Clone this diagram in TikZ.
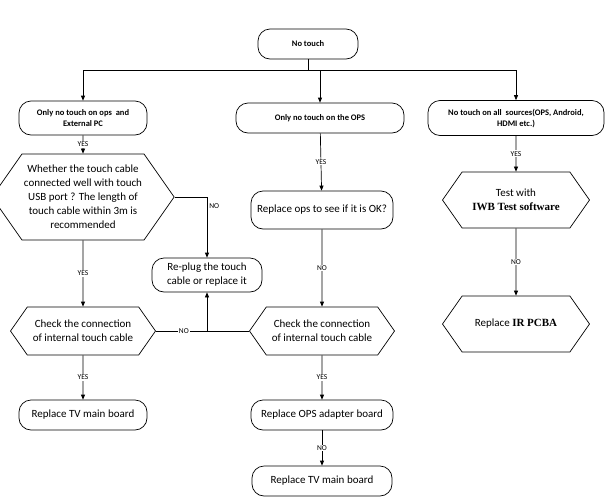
\documentclass[tikz,border=0pt]{standalone}
\usepackage{fontspec}
\setmainfont{Carlito}
\newfontfamily\serifb{Liberation Serif}
\usetikzlibrary{shapes.symbols,arrows.meta}
\tikzset{%
  termnode/.style = {shape=rectangle, rounded corners=12pt, draw,%
                     align=center, font=\fontsize{8.5}{11}\selectfont\bfseries},%
  procnode/.style = {shape=rectangle, rounded corners=12pt, draw,%
                     align=center, font=\fontsize{11}{14}\selectfont},%
  hexnode/.style  = {shape=signal, signal to=east and west, draw,%
                     signal pointer angle=110, align=center, inner xsep=2pt,%
                     font=\fontsize{11}{14}\selectfont},%
  lbl/.style      = {fill=white, inner sep=1pt, font=\fontsize{7.5}{9}\selectfont},%
  flow/.style     = {draw, -{Triangle[length=5pt,width=4pt]}}%
}
\begin{document}
\begin{tikzpicture}[x=1pt, y=-1pt, line width=0.7pt]
  \useasboundingbox (0,0) rectangle (611,501);
  % top
  \node[termnode, minimum width=100, minimum height=30] (top) at (308,44) {No touch};
  \node[termnode, minimum width=128, minimum height=34] (ops) at (83,118)
    {Only no touch on ops\ \ and\\External PC};
  \node[termnode, minimum width=168, minimum height=30] (only) at (320,118)
    {Only no touch on the OPS};
  \node[termnode, minimum width=176, minimum height=35] (all) at (516,118)
    {No touch on all\ \ sources(OPS, Android,\\HDMI etc.)};
  \coordinate (split) at (308,70);
  \draw (top) -- (split);
  \draw (83,70) -- (516,70);
  \draw[flow] (83,70) -- (ops);
  \draw[flow] (320,70) -- (only);
  \draw[flow] (516,70) -- (all);
  % left branch
  \node[hexnode, minimum width=165, minimum height=86] (cable) at (83,197)
    {Whether the touch cable\\connected well with touch\\USB port ? The length of\\touch cable within 3m is\\recommended};
  \node[procnode, minimum width=110, minimum height=34] (replug) at (207,275)
    {Re-plug the touch\\cable or replace it};
  \node[hexnode, minimum width=145, minimum height=48] (checkl) at (83,331)
    {Check the connection\\of internal touch cable};
  \node[termnode, font=\fontsize{11}{14}\selectfont, minimum width=128, minimum height=30] (tvl) at (83,415)
    {Replace TV main board};
  \draw[flow] (ops) -- node[lbl] {YES} (cable);
  \draw[flow] (cable.east) -- (207,197) -- node[lbl, pos=0.15, right=1pt, fill=none] {NO} (replug);
  \draw[flow] (cable) -- node[lbl] {YES} (checkl);
  \draw[flow] (checkl) -- node[lbl] {YES} (tvl);
  % middle branch
  \node[procnode, minimum width=142, minimum height=38] (swap) at (322,210)
    {Replace ops to see if it is OK?};
  \node[hexnode, minimum width=145, minimum height=48] (checkm) at (322,331)
    {Check the connection\\of internal touch cable};
  \node[termnode, font=\fontsize{11}{14}\selectfont, minimum width=142, minimum height=30] (adapt) at (322,415)
    {Replace OPS adapter board};
  \node[termnode, font=\fontsize{11}{14}\selectfont, minimum width=140, minimum height=30] (tvm) at (322,481)
    {Replace TV main board};
  \draw[flow] (only) -- node[lbl] {YES} (swap);
  \draw[flow] (swap) -- node[lbl] {NO} (checkm);
  \draw[flow] (checkm) -- node[lbl] {YES} (adapt);
  \draw[flow] (adapt) -- node[lbl] {NO} (tvm);
  \draw (checkl.east) -- node[lbl, pos=0.3] {NO} (checkm.west);
  \draw[flow] (207,331) -- (replug);
  % right branch
  \node[hexnode, minimum width=147, minimum height=56] (iwb) at (516,200)
    {Test with\\{\serifb\bfseries IWB Test software}};
  \node[hexnode, minimum width=147, minimum height=56] (ir) at (516,324)
    {Replace {\serifb\bfseries IR PCBA}};
  \draw[flow] (all) -- node[lbl] {YES} (iwb);
  \draw[flow] (iwb) -- node[lbl] {NO} (ir);
\end{tikzpicture}
\end{document}
